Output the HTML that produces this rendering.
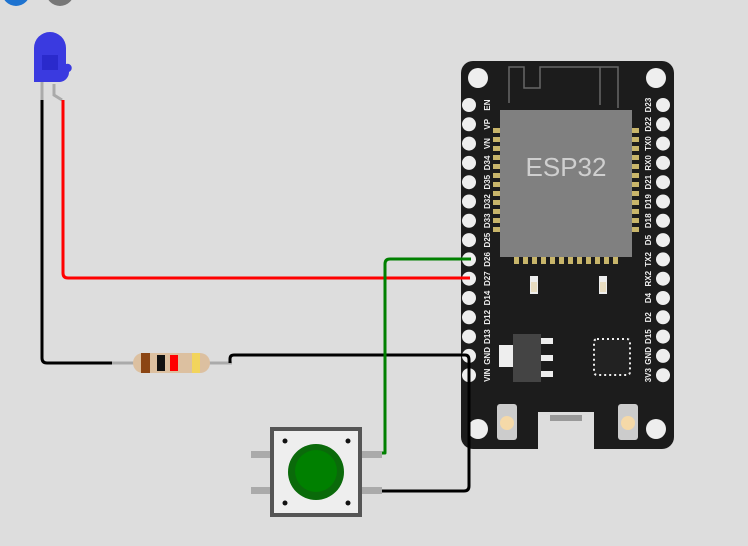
<!DOCTYPE html>
<html><head><style>body{margin:0;background:#dddddd}svg{display:block}</style></head>
<body>
<svg width="748" height="546" viewBox="0 0 748 546" xmlns="http://www.w3.org/2000/svg" font-family="Liberation Sans, sans-serif">
<rect width="748" height="546" fill="#dddddd"/>
<!-- top partial icons -->
<circle cx="16" cy="-8" r="14" fill="#1e73d0"/>
<circle cx="60" cy="-8" r="14" fill="#777"/>

<!-- board -->
<rect x="461" y="61" width="213" height="388" rx="12" fill="#1c1c1c"/>
<g fill="#eee">
<circle cx="478" cy="78" r="10"/><circle cx="656" cy="78" r="10"/>
<circle cx="478" cy="429" r="10"/><circle cx="656" cy="429" r="10"/>
</g>
<path d="M509 103 V67 H524 V88 H540 V67 H600 V105 M598 67 H618 V108" fill="none" stroke="#666" stroke-width="1.5"/>
<g fill="#c8b56a">
<rect x="493" y="128" width="8" height="5"/><rect x="493" y="137" width="8" height="5"/><rect x="493" y="146" width="8" height="5"/><rect x="493" y="155" width="8" height="5"/><rect x="493" y="164" width="8" height="5"/><rect x="493" y="173" width="8" height="5"/><rect x="493" y="182" width="8" height="5"/><rect x="493" y="191" width="8" height="5"/><rect x="493" y="200" width="8" height="5"/><rect x="493" y="209" width="8" height="5"/><rect x="493" y="218" width="8" height="5"/><rect x="493" y="227" width="8" height="5"/>
<rect x="631" y="128" width="8" height="5"/><rect x="631" y="137" width="8" height="5"/><rect x="631" y="146" width="8" height="5"/><rect x="631" y="155" width="8" height="5"/><rect x="631" y="164" width="8" height="5"/><rect x="631" y="173" width="8" height="5"/><rect x="631" y="182" width="8" height="5"/><rect x="631" y="191" width="8" height="5"/><rect x="631" y="200" width="8" height="5"/><rect x="631" y="209" width="8" height="5"/><rect x="631" y="218" width="8" height="5"/><rect x="631" y="227" width="8" height="5"/>
<rect x="514" y="255" width="5" height="9"/><rect x="523" y="255" width="5" height="9"/><rect x="532" y="255" width="5" height="9"/><rect x="541" y="255" width="5" height="9"/><rect x="550" y="255" width="5" height="9"/><rect x="559" y="255" width="5" height="9"/><rect x="568" y="255" width="5" height="9"/><rect x="577" y="255" width="5" height="9"/><rect x="586" y="255" width="5" height="9"/><rect x="595" y="255" width="5" height="9"/><rect x="604" y="255" width="5" height="9"/><rect x="613" y="255" width="5" height="9"/>
</g>
<rect x="500" y="110" width="132" height="147" fill="#808080"/>
<text x="566" y="176" font-size="26" fill="#cfcfcf" text-anchor="middle">ESP32</text>
<rect x="530" y="276" width="8" height="18" fill="#eee"/><rect x="599" y="276" width="8" height="18" fill="#eee"/>
<rect x="531" y="282" width="6" height="10" fill="#e8dcc0"/><rect x="600" y="282" width="6" height="10" fill="#e8dcc0"/>
<!-- regulator -->
<rect x="499" y="345" width="15" height="22" fill="#eee"/>
<rect x="513" y="334" width="28" height="48" fill="#444"/>
<rect x="541" y="338" width="12" height="6" fill="#eee"/><rect x="541" y="355" width="12" height="6" fill="#eee"/><rect x="541" y="371" width="12" height="6" fill="#eee"/>
<!-- qfn -->
<rect x="594" y="339" width="36" height="36" rx="3" fill="#222" stroke="#eee" stroke-width="2" stroke-dasharray="2 3"/>
<rect x="597" y="342" width="30" height="30" fill="#222"/>
<!-- usb & buttons -->
<rect x="538" y="412" width="56" height="48" fill="#ddd"/>
<rect x="550" y="415" width="32" height="6" fill="#999"/>
<rect x="497" y="404" width="20" height="36" rx="3" fill="#ccc"/><circle cx="507" cy="423" r="7" fill="#f5d9a8"/>
<rect x="618" y="404" width="20" height="36" rx="3" fill="#ccc"/><circle cx="628" cy="423" r="7" fill="#f5d9a8"/>
<!-- pins -->
<g fill="#eee">
<circle cx="469" cy="105" r="7"/><circle cx="469" cy="124.3" r="7"/><circle cx="469" cy="143.6" r="7"/><circle cx="469" cy="162.9" r="7"/><circle cx="469" cy="182.2" r="7"/><circle cx="469" cy="201.5" r="7"/><circle cx="469" cy="220.8" r="7"/><circle cx="469" cy="240.1" r="7"/><circle cx="469" cy="259.4" r="7"/><circle cx="469" cy="278.7" r="7"/><circle cx="469" cy="298" r="7"/><circle cx="469" cy="317.3" r="7"/><circle cx="469" cy="336.6" r="7"/><circle cx="469" cy="355.9" r="7"/><circle cx="469" cy="375.2" r="7"/>
<circle cx="663" cy="105" r="7"/><circle cx="663" cy="124.3" r="7"/><circle cx="663" cy="143.6" r="7"/><circle cx="663" cy="162.9" r="7"/><circle cx="663" cy="182.2" r="7"/><circle cx="663" cy="201.5" r="7"/><circle cx="663" cy="220.8" r="7"/><circle cx="663" cy="240.1" r="7"/><circle cx="663" cy="259.4" r="7"/><circle cx="663" cy="278.7" r="7"/><circle cx="663" cy="298" r="7"/><circle cx="663" cy="317.3" r="7"/><circle cx="663" cy="336.6" r="7"/><circle cx="663" cy="355.9" r="7"/><circle cx="663" cy="375.2" r="7"/>
</g>
<g font-size="8" fill="#eee" font-weight="bold" text-anchor="middle">
<text transform="translate(487,105) rotate(-90)" dy="3">EN</text>
<text transform="translate(487,124.3) rotate(-90)" dy="3">VP</text>
<text transform="translate(487,143.6) rotate(-90)" dy="3">VN</text>
<text transform="translate(487,162.9) rotate(-90)" dy="3">D34</text>
<text transform="translate(487,182.2) rotate(-90)" dy="3">D35</text>
<text transform="translate(487,201.5) rotate(-90)" dy="3">D32</text>
<text transform="translate(487,220.8) rotate(-90)" dy="3">D33</text>
<text transform="translate(487,240.1) rotate(-90)" dy="3">D25</text>
<text transform="translate(487,259.4) rotate(-90)" dy="3">D26</text>
<text transform="translate(487,278.7) rotate(-90)" dy="3">D27</text>
<text transform="translate(487,298) rotate(-90)" dy="3">D14</text>
<text transform="translate(487,317.3) rotate(-90)" dy="3">D12</text>
<text transform="translate(487,336.6) rotate(-90)" dy="3">D13</text>
<text transform="translate(487,355.9) rotate(-90)" dy="3">GND</text>
<text transform="translate(487,375.2) rotate(-90)" dy="3">VIN</text>
<text transform="translate(648,105) rotate(-90)" dy="3">D23</text>
<text transform="translate(648,124.3) rotate(-90)" dy="3">D22</text>
<text transform="translate(648,143.6) rotate(-90)" dy="3">TX0</text>
<text transform="translate(648,162.9) rotate(-90)" dy="3">RX0</text>
<text transform="translate(648,182.2) rotate(-90)" dy="3">D21</text>
<text transform="translate(648,201.5) rotate(-90)" dy="3">D19</text>
<text transform="translate(648,220.8) rotate(-90)" dy="3">D18</text>
<text transform="translate(648,240.1) rotate(-90)" dy="3">D5</text>
<text transform="translate(648,259.4) rotate(-90)" dy="3">TX2</text>
<text transform="translate(648,278.7) rotate(-90)" dy="3">RX2</text>
<text transform="translate(648,298) rotate(-90)" dy="3">D4</text>
<text transform="translate(648,317.3) rotate(-90)" dy="3">D2</text>
<text transform="translate(648,336.6) rotate(-90)" dy="3">D15</text>
<text transform="translate(648,355.9) rotate(-90)" dy="3">GND</text>
<text transform="translate(648,375.2) rotate(-90)" dy="3">3V3</text>
</g>

<!-- resistor -->
<line x1="112" y1="363" x2="232" y2="363" stroke="#aaa" stroke-width="3"/>
<rect x="133" y="353" width="77" height="20" rx="10" fill="#dcc0a0"/>
<rect x="141" y="353" width="9" height="20" fill="#8b4513"/>
<rect x="157" y="355" width="8" height="16" fill="#111"/>
<rect x="170" y="355" width="8" height="16" fill="#f00"/>
<rect x="192" y="353" width="8" height="20" fill="#f2d45c"/>

<!-- button -->
<g fill="#aaa">
<rect x="251" y="451" width="22" height="7"/><rect x="251" y="487" width="22" height="7"/>
<rect x="360" y="451" width="22" height="7"/><rect x="360" y="487" width="22" height="7"/>
</g>
<rect x="272" y="429" width="88" height="86" fill="#eee" stroke="#555" stroke-width="4"/>
<g fill="#111"><circle cx="285" cy="441" r="2.5"/><circle cx="348" cy="441" r="2.5"/><circle cx="285" cy="503" r="2.5"/><circle cx="348" cy="503" r="2.5"/></g>
<circle cx="316" cy="472" r="28" fill="#0a6a0a"/>
<circle cx="316" cy="471" r="21" fill="#008000"/>

<!-- LED -->
<line x1="42" y1="82" x2="42" y2="100" stroke="#aaa" stroke-width="3"/>
<path d="M54 84 V95 L62 100" fill="none" stroke="#aaa" stroke-width="3"/>
<path d="M34 82 V48 A16 16 0 0 1 66 48 V64 A4 4 0 0 1 69 72 A10 10 0 0 1 60 82 L34 82 Z" fill="#3a3ae0"/>
<path d="M42 55 H58 V70 H42 Z" fill="#2a2acc"/>

<!-- wires -->
<g fill="none" stroke-width="3" stroke-linejoin="round">
<path d="M42 100 V358 Q42 363 47 363 H112" stroke="#000"/>
<path d="M63 100 V273 Q63 278 68 278 H470" stroke="#f00"/>
<path d="M230 363 V359 Q230 355 234 355 H465 Q469 355 469 360 V486 Q469 491 464 491 H382" stroke="#000"/>
<path d="M471 259 H390 Q385 259 385 264 V453 H382" stroke="#008000"/>
</g>
</svg>
</body></html>
